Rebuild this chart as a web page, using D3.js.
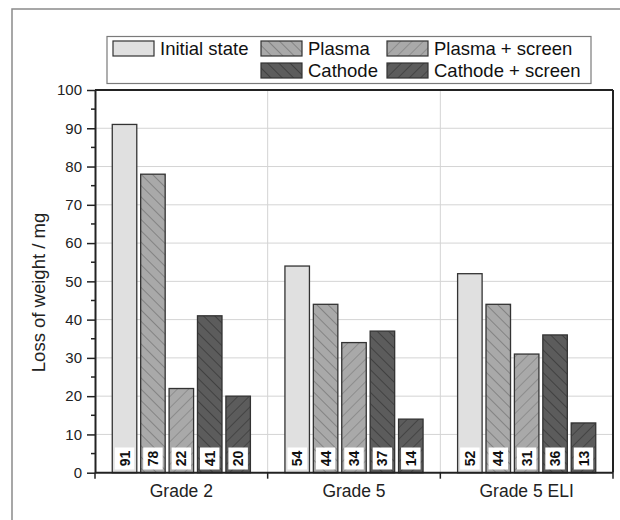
<!DOCTYPE html>
<html>
<head>
<meta charset="utf-8">
<script src="https://cdn.jsdelivr.net/npm/d3@7"></script>
<style>
  html, body { margin: 0; padding: 0; background: #fff; }
  svg { display: block; font-family: "Liberation Sans", Arial, Helvetica, sans-serif; }
</style>
</head>
<body>
<svg id="chart" width="620" height="520"></svg>
<script>
// ---- data ----
const categories = ["Grade 2", "Grade 5", "Grade 5 ELI"];
const series = ["Initial state", "Plasma", "Plasma + screen", "Cathode", "Cathode + screen"];
const initialState = [91, 54, 52];
const plasma = [78, 44, 44];
const plasmaScreen = [22, 34, 31];
const cathode = [41, 37, 36];
const cathodeScreen = [20, 14, 13];
const yTicks = [0, 10, 20, 30, 40, 50, 60, 70, 80, 90, 100];
const yMinorTicks = [5, 15, 25, 35, 45, 55, 65, 75, 85, 95];
const yTitle = "Loss of weight / mg";

const values = [initialState, plasma, plasmaScreen, cathode, cathodeScreen];

// ---- styles ----
const fills = ["#e0e0e0", "#a9a9a9", "#a9a9a9", "#5c5c5c", "#5c5c5c"];
const hatch = [null, "back", "fwd", "back", "fwd"];
const hatchColor = [null, "#6a6a6a", "#7a7a7a", "#2e2e2e", "#333333"];

const svg = d3.select("#chart");
const defs = svg.append("defs");

series.forEach((s, i) => {
  if (!hatch[i]) return;
  const p = defs.append("pattern")
    .attr("id", "pat" + i)
    .attr("patternUnits", "userSpaceOnUse")
    .attr("width", 8).attr("height", 8)
    .attr("patternTransform", hatch[i] === "back" ? "rotate(-45)" : "rotate(45)");
  p.append("rect").attr("width", 8).attr("height", 8).attr("fill", fills[i]);
  p.append("line").attr("x1", 0).attr("y1", 0).attr("x2", 0).attr("y2", 8)
    .attr("stroke", hatchColor[i]).attr("stroke-width", 1.2);
});
const fillOf = i => hatch[i] ? `url(#pat${i})` : fills[i];

// outer frame (partial, cropped)
svg.append("rect").attr("x", 12).attr("y", 9).attr("width", 700).attr("height", 600)
  .attr("fill", "none").attr("stroke", "#8a8a8a").attr("stroke-width", 1.5);

// ---- layout ----
const L = 95, R = 613, T = 90, B = 472.7;

const x = d3.scaleBand().domain(categories).range([L, R]).padding(0);
const bw = x.bandwidth();
const xs = d3.scaleBand().domain(series).range([0.1 * bw, 0.9 * bw]).paddingInner(0.137).paddingOuter(0);
const y = d3.scaleLinear().domain([0, 100]).range([B, T]);

// grid
const g = svg.append("g");
g.selectAll("line.hg").data(yTicks.filter(t => t > 0 && t < 100)).join("line")
  .attr("x1", L).attr("x2", R).attr("y1", d => y(d)).attr("y2", d => y(d))
  .attr("stroke", "#d4d4d4").attr("stroke-width", 1);
g.selectAll("line.vg").data(categories.slice(1)).join("line")
  .attr("x1", d => x(d)).attr("x2", d => x(d)).attr("y1", T).attr("y2", B)
  .attr("stroke", "#d4d4d4").attr("stroke-width", 1);

// bars
const bars = svg.append("g");
categories.forEach((c, ci) => {
  series.forEach((s, si) => {
    const v = values[si][ci];
    bars.append("rect")
      .attr("x", x(c) + xs(s))
      .attr("y", y(v))
      .attr("width", xs.bandwidth())
      .attr("height", y(0) - y(v))
      .attr("fill", fillOf(si))
      .attr("stroke", "#333")
      .attr("stroke-width", 1.3);
  });
});

// value labels
const lab = svg.append("g");
categories.forEach((c, ci) => {
  series.forEach((s, si) => {
    const v = values[si][ci];
    const cx = x(c) + xs(s) + xs.bandwidth() / 2;
    const h = 22, w = 19.5;
    const cy = y(0) - 3.2 - h / 2;
    lab.append("rect").attr("x", cx - w / 2).attr("y", cy - h / 2)
      .attr("width", w).attr("height", h).attr("fill", "#fff");
    lab.append("text")
      .attr("transform", `translate(${cx},${cy}) rotate(-90)`)
      .attr("text-anchor", "middle").attr("dy", "0.36em")
      .attr("font-size", 14).attr("font-weight", "bold").attr("fill", "#111")
      .text(v);
  });
});

// frame top/right
svg.append("line").attr("x1", L).attr("x2", R).attr("y1", T).attr("y2", T)
  .attr("stroke", "#222").attr("stroke-width", 2);
svg.append("line").attr("x1", R).attr("x2", R).attr("y1", T).attr("y2", B)
  .attr("stroke", "#222").attr("stroke-width", 2);

// y axis
const yAxis = svg.append("g").attr("transform", `translate(${L},0)`)
  .call(d3.axisLeft(y).tickValues(yTicks).tickSize(8).tickPadding(5).tickSizeOuter(0));
yAxis.select(".domain").attr("stroke", "#222").attr("stroke-width", 2);
yAxis.selectAll(".tick line").attr("stroke", "#222").attr("stroke-width", 1.5);
yAxis.selectAll(".tick text").attr("font-size", 15).attr("fill", "#222")
  .attr("font-family", "'Liberation Sans', Arial, sans-serif");
yAxis.selectAll("line.minor").data(yMinorTicks).join("line").attr("class", "minor")
  .attr("x1", -4).attr("x2", 0).attr("y1", d => y(d)).attr("y2", d => y(d))
  .attr("stroke", "#222").attr("stroke-width", 1.5);

// x axis
const xAxis = svg.append("g").attr("transform", `translate(0,${B})`);
xAxis.append("line").attr("x1", L).attr("x2", R).attr("y1", 0).attr("y2", 0)
  .attr("stroke", "#222").attr("stroke-width", 2);
const bounds = categories.map(c => x(c)).concat([x(categories[categories.length - 1]) + bw]);
xAxis.selectAll("line.xt").data(bounds).join("line").attr("class", "xt")
  .attr("x1", d => d).attr("x2", d => d).attr("y1", 0).attr("y2", 6)
  .attr("stroke", "#222").attr("stroke-width", 1.5);
xAxis.selectAll("text.cat").data(categories).join("text").attr("class", "cat")
  .attr("x", d => x(d) + bw / 2).attr("y", 24.5)
  .attr("text-anchor", "middle").attr("font-size", 17.5).attr("fill", "#222")
  .text(d => d);

// y title
svg.append("text")
  .attr("transform", `translate(45,292.5) rotate(-90)`)
  .attr("text-anchor", "middle").attr("font-size", 18.5).attr("fill", "#222")
  .text(yTitle);

// legend
const leg = svg.append("g");
leg.append("rect").attr("x", 107).attr("y", 36.5).attr("width", 484).attr("height", 47)
  .attr("fill", "#fff").attr("stroke", "#7a7a7a").attr("stroke-width", 1.2);
const legPos = [[113, 41], [261, 41], [387, 41], [261, 63], [387, 63]];
series.forEach((s, i) => {
  const [lx, ly] = legPos[i];
  leg.append("rect").attr("x", lx).attr("y", ly).attr("width", 41).attr("height", 15)
    .attr("fill", fillOf(i)).attr("stroke", "#333").attr("stroke-width", 1.2);
  leg.append("text").attr("x", lx + 47).attr("y", ly + 14)
    .attr("font-size", 18.5).attr("fill", "#111").text(s);
});
</script>
</body>
</html>
